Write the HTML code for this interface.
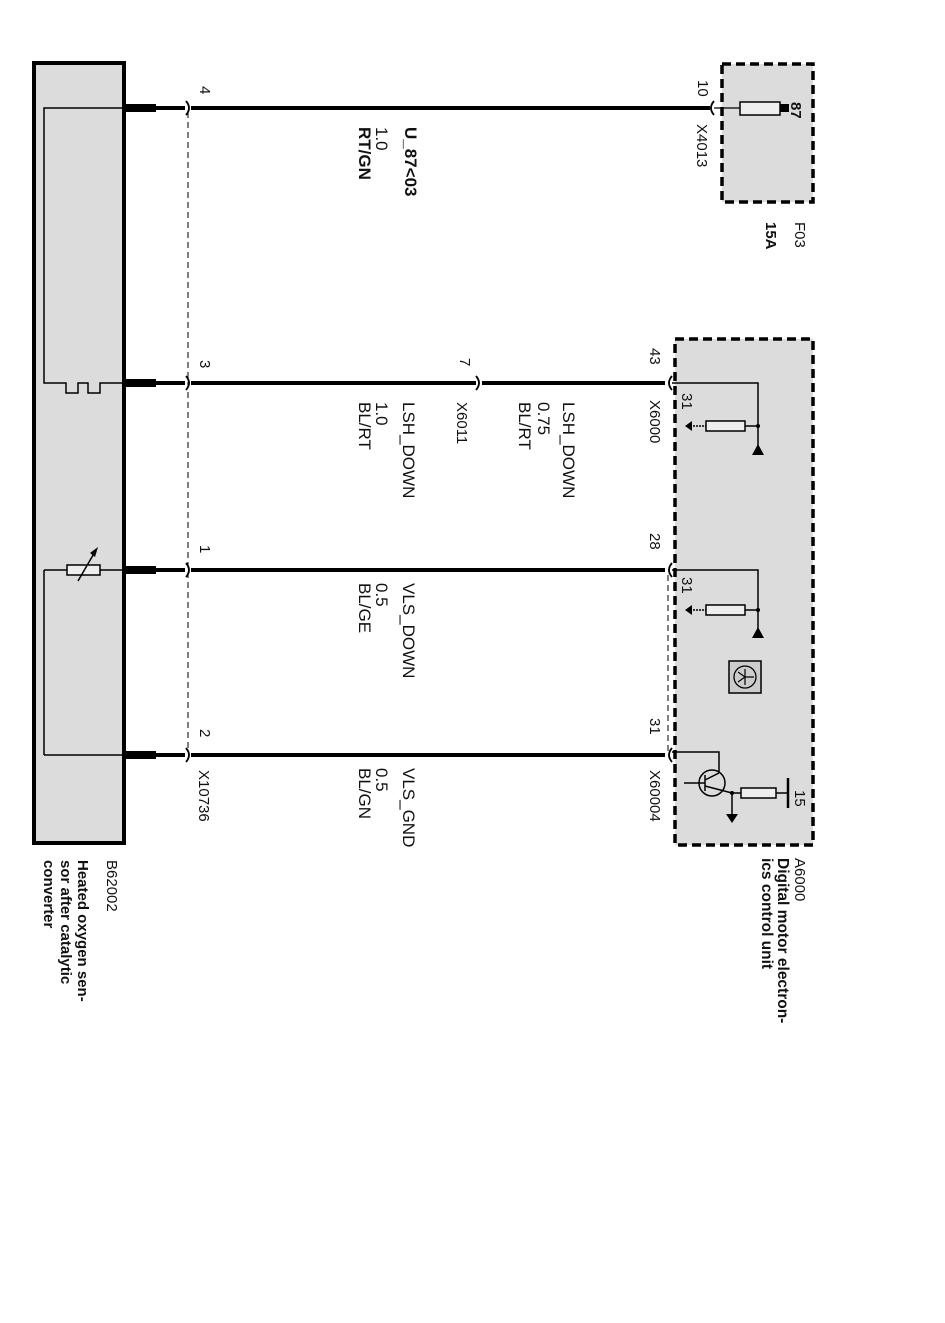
<!DOCTYPE html>
<html><head><meta charset="utf-8"><style>
html,body{margin:0;padding:0;background:#fff;}
svg{display:block;}
text{font-family:"Liberation Sans",Arial,sans-serif;font-size:15px;fill:#111;}
.b{font-weight:bold;}
.w{font-size:17px;}
</style></head><body>
<svg width="945" height="1323" viewBox="0 0 945 1323" xmlns="http://www.w3.org/2000/svg">
<rect x="34" y="63" width="90" height="780" fill="#dcdcdc" stroke="#000" stroke-width="4"/>
<polyline points="124,108 44,108 44,383 66,383 66,393 78,393 78,383 88,383 88,393 100,393 100,383 124,383" fill="none" stroke="#000" stroke-width="1.5"/>
<line x1="124" y1="570" x2="100" y2="570" stroke="#000" stroke-width="1.5"/>
<rect x="67" y="565" width="33" height="10" fill="#eee" stroke="#000" stroke-width="1.5"/>
<line x1="44" y1="570" x2="67" y2="570" stroke="#000" stroke-width="1.5"/>
<line x1="44" y1="570" x2="44" y2="755" stroke="#000" stroke-width="1.5"/>
<line x1="44" y1="755" x2="124" y2="755" stroke="#000" stroke-width="1.5"/>
<line x1="78" y1="581" x2="96" y2="550" stroke="#000" stroke-width="1.5"/>
<polygon points="98,547 90,553 95,557" fill="#000"/>
<g fill="#000">
<rect x="124" y="104" width="32" height="8"/><rect x="124" y="379" width="32" height="8"/>
<rect x="124" y="566" width="32" height="8"/><rect x="124" y="751" width="32" height="8"/>
</g>
<g stroke="#000" stroke-width="4" fill="none">
<line x1="150" y1="108" x2="185" y2="108"/><line x1="191" y1="108" x2="710" y2="108"/>
<line x1="150" y1="383" x2="185" y2="383"/><line x1="191" y1="383" x2="476" y2="383"/><line x1="482" y1="383" x2="665" y2="383"/>
<line x1="150" y1="570" x2="185" y2="570"/><line x1="191" y1="570" x2="665" y2="570"/>
<line x1="150" y1="755" x2="185" y2="755"/><line x1="191" y1="755" x2="665" y2="755"/>
</g>
<g stroke="#000" stroke-width="1.8" fill="none">
<path d="M186,101 Q192,108 186,115"/><path d="M186,376 Q192,383 186,390"/><path d="M186,563 Q192,570 186,577"/><path d="M186,748 Q192,755 186,762"/>
<path d="M476,376 Q482,383 476,390"/>
<path d="M714,101 Q708,108 714,115"/>
<path d="M672,376 Q666,383 672,390"/><path d="M672,563 Q666,570 672,577"/><path d="M672,748 Q666,755 672,762"/>
</g>
<line x1="188" y1="112" x2="188" y2="752" stroke="#000" stroke-width="1" stroke-dasharray="6,4"/>
<line x1="668" y1="575" x2="668" y2="752" stroke="#000" stroke-width="1" stroke-dasharray="6,4"/>
<rect x="722" y="64" width="91" height="138" fill="#dcdcdc" stroke="#000" stroke-width="3.5" stroke-dasharray="9,5"/>
<line x1="714" y1="108" x2="740" y2="108" stroke="#000" stroke-width="1.2"/>
<rect x="740" y="102" width="40" height="13" fill="#eee" stroke="#000" stroke-width="1.5"/>
<rect x="780" y="104" width="9" height="8" fill="#000"/>
<rect x="675" y="339" width="138" height="506" fill="#dcdcdc" stroke="#000" stroke-width="3.5" stroke-dasharray="9,5"/>
<g stroke="#000" stroke-width="1.5" fill="none">
<polyline points="672,383 758,383 758,448"/>
<line x1="745" y1="426" x2="758" y2="426"/><line x1="690" y1="426" x2="706" y2="426" stroke-dasharray="2,1"/>
<polyline points="672,570 758,570 758,633"/>
<line x1="745" y1="610" x2="758" y2="610"/><line x1="690" y1="610" x2="706" y2="610" stroke-dasharray="2,1"/>
</g>
<rect x="706" y="421" width="39" height="10" fill="#eee" stroke="#000" stroke-width="1.5"/>
<rect x="706" y="605" width="39" height="10" fill="#eee" stroke="#000" stroke-width="1.5"/>
<g fill="#000">
<circle cx="758" cy="426" r="2"/><circle cx="758" cy="610" r="2"/>
<polygon points="752,455 764,455 758,444"/><polygon points="752,638 764,638 758,627"/>
<polygon points="685,426 692,421 692,431"/><polygon points="685,610 692,605 692,615"/>
</g>
<rect x="729" y="661" width="32" height="32" fill="#ccc" stroke="#000" stroke-width="1.5"/>
<circle cx="745" cy="677" r="11" fill="none" stroke="#000" stroke-width="1.3"/>
<path d="M738,672 L745,677 L738,682 M745,677 L754,677 M745,669 L745,685" stroke="#000" stroke-width="1.2" fill="none"/>
<g stroke="#000" stroke-width="1.5" fill="none">
<polyline points="672,752 719,752 719,773"/>
<circle cx="712" cy="783" r="13"/>
<line x1="684" y1="783" x2="705" y2="783"/>
<line x1="705" y1="775" x2="705" y2="791"/>
<line x1="705" y1="780" x2="719" y2="773"/>
<line x1="705" y1="786" x2="732" y2="793"/>
<line x1="732" y1="793" x2="741" y2="793"/>
<line x1="776" y1="793" x2="788" y2="793"/>
<line x1="732" y1="793" x2="732" y2="815"/>
</g>
<rect x="741" y="788" width="35" height="10" fill="#eee" stroke="#000" stroke-width="1.5"/>
<line x1="788" y1="778" x2="788" y2="808" stroke="#000" stroke-width="2.5"/>
<circle cx="732" cy="793" r="2" fill="#000"/>
<polygon points="726,814 738,814 732,823" fill="#000"/>
<g>
<text transform="translate(200,86) rotate(90)">4</text>
<text transform="translate(200,360) rotate(90)">3</text>
<text transform="translate(200,545) rotate(90)">1</text>
<text transform="translate(200,729) rotate(90)">2</text>
<text transform="translate(199,770) rotate(90)">X10736</text>
<text class="b w" transform="translate(405,127) rotate(90)">U_87&lt;03</text>
<text class="w" transform="translate(376,127) rotate(90)">1.0</text>
<text class="b w" transform="translate(359,127) rotate(90)">RT/GN</text>
<text class="w" transform="translate(403,402) rotate(90)">LSH_DOWN</text>
<text class="w" transform="translate(376,402) rotate(90)">1.0</text>
<text class="w" transform="translate(359,402) rotate(90)">BL/RT</text>
<text transform="translate(460,358) rotate(90)">7</text>
<text transform="translate(457,402) rotate(90)">X6011</text>
<text class="w" transform="translate(563,402) rotate(90)">LSH_DOWN</text>
<text class="w" transform="translate(538,402) rotate(90)">0.75</text>
<text class="w" transform="translate(519,402) rotate(90)">BL/RT</text>
<text class="w" transform="translate(403,583) rotate(90)">VLS_DOWN</text>
<text class="w" transform="translate(376,583) rotate(90)">0.5</text>
<text class="w" transform="translate(359,583) rotate(90)">BL/GE</text>
<text class="w" transform="translate(403,768) rotate(90)">VLS_GND</text>
<text class="w" transform="translate(376,768) rotate(90)">0.5</text>
<text class="w" transform="translate(359,768) rotate(90)">BL/GN</text>
<text transform="translate(698,80) rotate(90)">10</text>
<text transform="translate(697,124) rotate(90)">X4013</text>
<text class="b" transform="translate(791,102) rotate(90)">87</text>
<text transform="translate(795,222) rotate(90)">F03</text>
<text class="b" transform="translate(766,222) rotate(90)">15A</text>
<text transform="translate(650,348) rotate(90)">43</text>
<text transform="translate(650,400) rotate(90)">X6000</text>
<text transform="translate(682,393) rotate(90)">31</text>
<text transform="translate(650,533) rotate(90)">28</text>
<text transform="translate(682,577) rotate(90)">31</text>
<text transform="translate(650,718) rotate(90)">31</text>
<text transform="translate(650,770) rotate(90)">X60004</text>
<text transform="translate(795,790) rotate(90)">15</text>
<text transform="translate(795,858) rotate(90)">A6000</text>
<text class="b" style="font-size:15.5px" transform="translate(778,858) rotate(90)">Digital motor electron-</text>
<text class="b" style="font-size:15.5px" transform="translate(762,858) rotate(90)">ics control unit</text>
<text transform="translate(107,860) rotate(90)">B62002</text>
<text class="b" transform="translate(78,860) rotate(90)">Heated oxygen sen-</text>
<text class="b" transform="translate(61,860) rotate(90)">sor after catalytic</text>
<text class="b" transform="translate(44,860) rotate(90)">converter</text>
</g>
</svg>
</body></html>
